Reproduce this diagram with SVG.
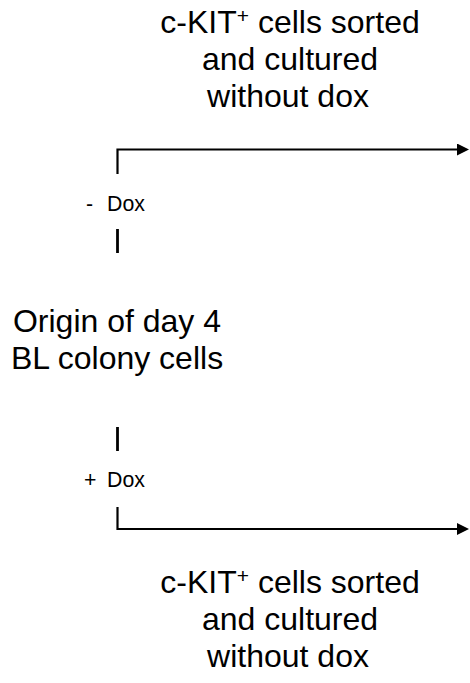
<svg xmlns="http://www.w3.org/2000/svg" width="470" height="683" viewBox="0 0 470 683">
  <defs>
    <style>
      .lbl { font-family: "Liberation Sans", Arial, sans-serif; font-size: 32px; fill: #000; text-anchor: middle; }
      .dox { font-family: "Liberation Sans", Arial, sans-serif; font-size: 21.3px; fill: #000; }
      .sup { font-size: 21px; }
      .wire { fill: none; stroke: #000; stroke-width: 2.2; stroke-linejoin: miter; }
      .tick { stroke: #000; stroke-width: 2.8; }
    </style>
    <marker id="arrow" markerUnits="userSpaceOnUse" markerWidth="12" markerHeight="12" refX="1" refY="6" orient="auto">
      <path d="M0,0 L12,6 L0,12 z" fill="#000"/>
    </marker>
  </defs>
  <rect width="470" height="683" fill="#fff"/>

  <!-- outcome label, upper branch -->
  <g id="sorted-top">
    <text class="lbl" x="290" y="33">c-KIT<tspan class="sup" dy="-10">+</tspan><tspan dy="10"> cells sorted</tspan></text>
    <text class="lbl" x="290" y="70">and cultured</text>
    <text class="lbl" x="288" y="107">without dox</text>
  </g>

  <!-- minus-dox condition -->
  <g id="minus-dox">
    <text class="dox" y="211"><tspan x="86">-</tspan><tspan x="107">Dox</tspan></text>
    <line class="tick" x1="117.5" y1="229" x2="117.5" y2="253"/>
  </g>

  <!-- starting population -->
  <g id="origin">
    <text class="lbl" x="117" y="332">Origin of day 4</text>
    <text class="lbl" x="117" y="369">BL colony cells</text>
  </g>

  <!-- plus-dox condition -->
  <g id="plus-dox">
    <line class="tick" x1="117.5" y1="427" x2="117.5" y2="451"/>
    <text class="dox" y="487"><tspan x="84">+</tspan><tspan x="107">Dox</tspan></text>
  </g>

  <!-- outcome label, lower branch -->
  <g id="sorted-bottom">
    <text class="lbl" x="290" y="593">c-KIT<tspan class="sup" dy="-10">+</tspan><tspan dy="10"> cells sorted</tspan></text>
    <text class="lbl" x="290" y="630">and cultured</text>
    <text class="lbl" x="288" y="667">without dox</text>
  </g>

  <!-- branch arrows -->
  <g id="connectors">
    <path class="wire" d="M117.5,174 V149.5 H458" marker-end="url(#arrow)"/>
    <path class="wire" d="M117.5,507 V529 H458" marker-end="url(#arrow)"/>
  </g>
</svg>
